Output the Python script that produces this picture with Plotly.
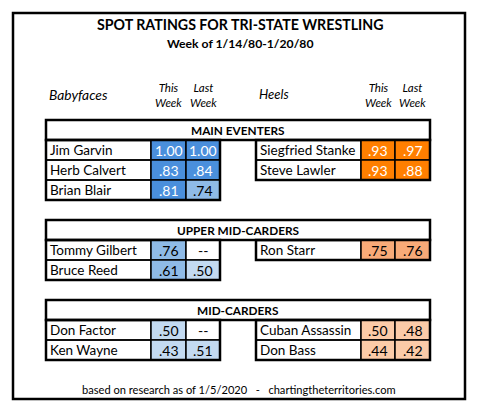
import plotly.graph_objects as go

# --- data -------------------------------------------------------------
sections = ["MAIN EVENTERS", "UPPER MID-CARDERS", "MID-CARDERS"]

face_names = ["Jim Garvin", "Herb Calvert", "Brian Blair",
              "Tommy Gilbert", "Bruce Reed",
              "Don Factor", "Ken Wayne"]
face_this = [1.00, 0.83, 0.81, 0.76, 0.61, 0.50, 0.43]
face_last = [1.00, 0.84, 0.74, None, 0.50, None, 0.51]
face_section = [0, 0, 0, 1, 1, 2, 2]

heel_names = ["Siegfried Stanke", "Steve Lawler",
              "Ron Starr",
              "Cuban Assassin", "Don Bass"]
heel_this = [0.93, 0.93, 0.75, 0.50, 0.44]
heel_last = [0.97, 0.88, 0.76, 0.48, 0.42]
heel_section = [0, 0, 1, 2, 2]

col_headers = ["This<br>Week", "Last<br>Week"]

title = "SPOT RATINGS FOR TRI-STATE WRESTLING"
subtitle = "Week of 1/14/80-1/20/80"
footer = "based on research as of 1/5/2020\u00a0\u00a0\u00a0-\u00a0\u00a0\u00a0chartingtheterritories.com"

# --- styling ----------------------------------------------------------
FONT = "Lato"
W, H = 477, 412
ROW_H = 20
TOP0 = 120
BLUES = ["#c3daf1", "#8fbbe7", "#4a8fdc"]
ORANGES = ["#fbcba8", "#f8aa78", "#ff7f00"]


def shade(v, palette):
    if v is None:
        return "white", "black"
    if v >= 0.8:
        return palette[2], "white"
    if v >= 0.6:
        return palette[1], "black"
    return palette[0], "black"


def fmt(v):
    if v is None:
        return "--"
    if v >= 1:
        return "%.2f" % v
    return ("%.2f" % v)[1:]


# section tops follow from the number of rows in each section
n_rows = [max(face_section.count(i), heel_section.count(i)) for i in range(len(sections))]
tops = [TOP0]
for n in n_rows[:-1]:
    tops.append(tops[-1] + ROW_H * (n + 1) + ROW_H)

# column edges: name, this week, last week
left_cols = [46, 151, 186, 220]
right_cols = [256, 361, 395, 430]

shapes = []
annotations = []


def add_rect(x0, y0, x1, y1, fill=None, lw=1.5):
    shapes.append(dict(type="rect", xref="x", yref="y", x0=x0, y0=y0, x1=x1, y1=y1,
                       fillcolor=fill if fill else "rgba(0,0,0,0)",
                       line=dict(color="black", width=lw), layer="above"))


def add_text(x, y, text, size=13, bold=False, italic=False, color="black", anchor="center"):
    if bold:
        text = "<b>" + text + "</b>"
    if italic:
        text = "<i>" + text + "</i>"
    annotations.append(dict(x=x, y=y, xref="x", yref="y", text=text, showarrow=False,
                            xanchor=anchor, yanchor="middle",
                            font=dict(family=FONT, size=size, color=color)))


def draw_side(names, this_wk, last_wk, sec_idx, cols, palette):
    row_in_sec = {}
    for i, name in enumerate(names):
        s = sec_idx[i]
        r = row_in_sec.get(s, 0)
        row_in_sec[s] = r + 1
        y0 = tops[s] + ROW_H * (r + 1)
        y1 = y0 + ROW_H
        add_rect(cols[0], y0, cols[1], y1)
        add_text(cols[0] + 2, (y0 + y1) / 2, name, size=13.5, anchor="left")
        for j, v in enumerate([this_wk[i], last_wk[i]]):
            fill, tc = shade(v, palette)
            add_rect(cols[j + 1], y0, cols[j + 2], y1, fill=fill)
            add_text((cols[j + 1] + cols[j + 2]) / 2, (y0 + y1) / 2, fmt(v), size=14, color=tc)
    for s, n in row_in_sec.items():
        add_rect(cols[0], tops[s] + ROW_H, cols[3], tops[s] + ROW_H * (n + 1), lw=2.5)


# outer frame
add_rect(13, 13, 465, 399, lw=2.5)

add_text(240, 24, title, size=14.2, bold=True)
add_text(240, 43, subtitle, size=12.2, bold=True)

# column headings
add_text(78, 94, "Babyfaces", size=13.8, italic=True)
add_text(274, 94, "Heels", size=13, italic=True)
for cols in (left_cols, right_cols):
    for j, h in enumerate(col_headers):
        add_text((cols[j + 1] + cols[j + 2]) / 2, 95, h, size=11.5, italic=True)

for s, name in enumerate(sections):
    add_rect(left_cols[0], tops[s], right_cols[3], tops[s] + ROW_H, lw=2.5)
    add_text((left_cols[0] + right_cols[3]) / 2, tops[s] + ROW_H / 2, name, size=11.8, bold=True)

draw_side(face_names, face_this, face_last, face_section, left_cols, BLUES)
draw_side(heel_names, heel_this, heel_last, heel_section, right_cols, ORANGES)

add_text(239, 389, footer, size=11.1)

fig = go.Figure()
fig.update_layout(
    width=W, height=H,
    margin=dict(l=0, r=0, t=0, b=0),
    paper_bgcolor="white", plot_bgcolor="white",
    xaxis=dict(range=[0, W], visible=False, fixedrange=True),
    yaxis=dict(range=[H, 0], visible=False, fixedrange=True),
    shapes=shapes,
    annotations=annotations,
    showlegend=False,
)
fig.write_html("out.html", config={"displayModeBar": False},
               post_script="document.body.style.margin='0';")
